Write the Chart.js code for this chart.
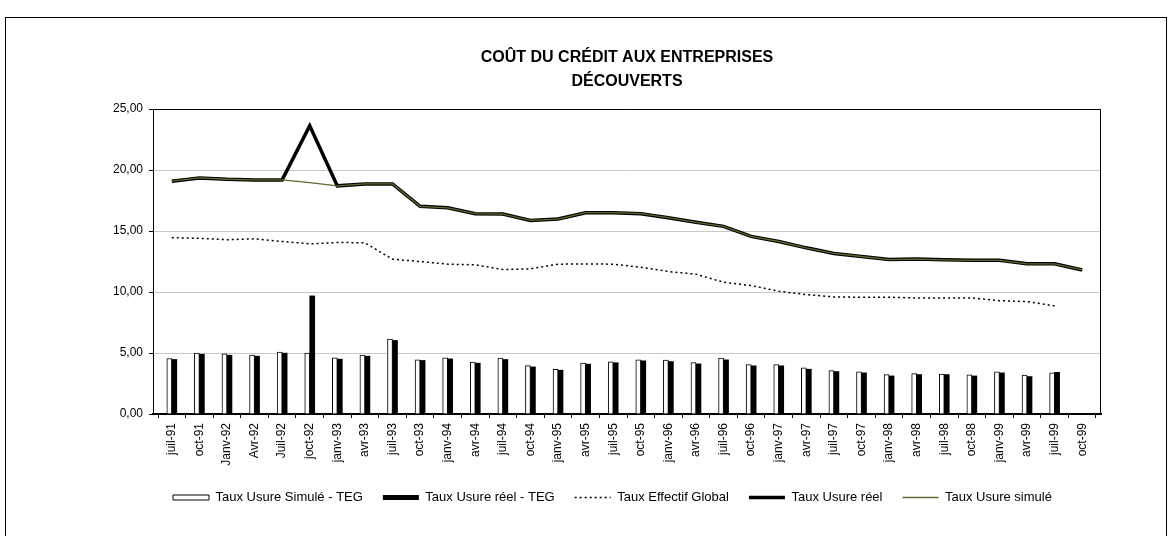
<!DOCTYPE html>
<html lang="fr">
<head>
<meta charset="utf-8">
<title>Coût du crédit aux entreprises — Découverts</title>
<script src="https://cdn.jsdelivr.net/npm/chart.js@4/dist/chart.umd.min.js"></script>
<style>
    html, body { margin: 0; padding: 0; background: #fff; }
    #zone { position: relative; width: 1170px; height: 536px; overflow: hidden; }
    #cadre {
        position: absolute; left: 5px; top: 17px;
        width: 1162px; height: 600px;
        border: 1px solid #000; box-sizing: border-box;
    }
    #graph { position: absolute; left: 0; top: 0; }
</style>
</head>
<body>
<div id="zone">
    <div id="cadre"></div>
    <canvas id="graph" width="1170" height="536"></canvas>
</div>
<script>
'use strict';

// ─── Données ──────────────────────────────────────────────────────────────────
const PERIODES = [
    'juil-91','oct-91','Janv-92','Avr-92','Juil-92','joct-92','janv-93','avr-93',
    'juil-93','oct-93','janv-94','avr-94','juil-94','oct-94','janv-95','avr-95',
    'juil-95','oct-95','janv-96','avr-96','juil-96','oct-96','janv-97','avr-97',
    'juil-97','oct-97','janv-98','avr-98','juil-98','oct-98','janv-99','avr-99',
    'juil-99','oct-99'
];

// écarts (barres)
const ECART_SIMULE = [
    4.55, 4.99, 4.93, 4.82, 5.07, 4.99, 4.60, 4.82, 6.14, 4.44, 4.60, 4.25,
    4.58, 3.97, 3.67, 4.17, 4.28, 4.44, 4.41, 4.22, 4.58, 4.05, 4.05, 3.78,
    3.56, 3.45, 3.23, 3.31, 3.28, 3.21, 3.45, 3.18, 3.37, null
];
const ECART_REEL = [
    4.47, 4.90, 4.82, 4.74, 4.99, 9.68, 4.50, 4.74, 6.03, 4.39, 4.52, 4.17,
    4.47, 3.86, 3.59, 4.09, 4.20, 4.36, 4.30, 4.11, 4.44, 3.95, 3.95, 3.67,
    3.48, 3.37, 3.12, 3.23, 3.23, 3.12, 3.37, 3.07, 3.42, null
];

// taux (courbes)
const TAUX_TEG = [
    14.45, 14.40, 14.28, 14.36, 14.14, 13.95, 14.06, 14.03, 12.69, 12.50, 12.28, 12.23,
    11.84, 11.90, 12.28, 12.30, 12.28, 12.03, 11.68, 11.46, 10.80, 10.53, 10.06, 9.79,
    9.60, 9.57, 9.57, 9.51, 9.51, 9.51, 9.29, 9.21, 8.86, null
];
const USURE_REEL = [
    19.08, 19.35, 19.24, 19.19, 19.19, 23.63, 18.70, 18.86, 18.86, 17.02, 16.90, 16.42,
    16.39, 15.87, 15.98, 16.50, 16.50, 16.42, 16.09, 15.71, 15.38, 14.56, 14.14, 13.62,
    13.16, 12.91, 12.66, 12.70, 12.64, 12.60, 12.60, 12.31, 12.31, 11.81
];
const USURE_SIMULE = [
    19.08, 19.35, 19.24, 19.19, 19.19, 18.97, 18.70, 18.86, 18.86, 17.02, 16.90, 16.42,
    16.39, 15.87, 15.98, 16.50, 16.50, 16.42, 16.09, 15.71, 15.38, 14.56, 14.14, 13.62,
    13.16, 12.91, 12.66, 12.70, 12.64, 12.60, 12.60, 12.31, 12.31, 11.81
];

const TICKS_Y = [0, 5, 10, 15, 20, 25];

// ─── Utils ────────────────────────────────────────────────────────────────────
const POLICE = "'Liberation Sans', Arial, sans-serif";

function formatTaux(v) {
    return Number(v).toFixed(2).replace('.', ',');
}

function points(serie) {
    return serie.map(function (v, i) { return { x: i, y: v }; });
}

// légende : ordre des séries + trait pointillé / épaisseur des courbes
function etiquettesLegende(chart) {
    const base = Chart.defaults.plugins.legend.labels.generateLabels(chart);
    base.forEach(function (item) {
        const ds = chart.data.datasets[item.datasetIndex];
        if (ds.type === 'line') {
            item.lineDash = ds.borderDash || [];
            item.lineWidth = ds.borderWidth;
            item.strokeStyle = ds.borderColor;
        }
    });
    return base.sort(function (a, b) { return a.datasetIndex - b.datasetIndex; });
}

// cadre noir autour de la zone de tracé
const cadrePlot = {
    id: 'cadrePlot',
    afterDraw: function (chart) {
        const a = chart.chartArea;
        const ctx = chart.ctx;
        ctx.save();
        ctx.strokeStyle = '#000';
        ctx.lineWidth = 1;
        ctx.beginPath();
        ctx.moveTo(a.left, a.top + 0.5);
        ctx.lineTo(a.right - 0.5, a.top + 0.5);
        ctx.lineTo(a.right - 0.5, a.bottom);
        ctx.stroke();
        ctx.restore();
    }
};

// ─── Graphique ────────────────────────────────────────────────────────────────
Chart.defaults.font.family = POLICE;
Chart.defaults.color = '#000';

new Chart(document.getElementById('graph'), {
    data: {
        datasets: [
            {
                type: 'bar',
                label: 'Taux Usure Simulé - TEG',
                data: points(ECART_SIMULE),
                backgroundColor: '#fff',
                borderColor: '#000',
                borderWidth: 1,
                barThickness: 5,
                pointStyle: 'rect',
                order: 3,
            },
            {
                type: 'bar',
                label: 'Taux Usure réel - TEG',
                data: points(ECART_REEL),
                backgroundColor: '#000',
                borderColor: '#000',
                borderWidth: 0,
                barThickness: 5,
                pointStyle: 'rect',
                order: 3,
            },
            {
                type: 'line',
                label: 'Taux Effectif Global',
                data: points(TAUX_TEG),
                borderColor: '#000',
                borderWidth: 1.5,
                borderDash: [2, 3],
                pointRadius: 0,
                pointStyle: 'line',
                spanGaps: false,
                order: 2,
            },
            {
                type: 'line',
                label: 'Taux Usure réel',
                data: points(USURE_REEL),
                borderColor: '#000',
                borderWidth: 3.5,
                pointRadius: 0,
                pointStyle: 'line',
                order: 1,
            },
            {
                type: 'line',
                label: 'Taux Usure simulé',
                data: points(USURE_SIMULE),
                borderColor: '#666633',
                borderWidth: 1.3,
                pointRadius: 0,
                pointStyle: 'line',
                order: 0,
            },
        ],
    },
    options: {
        responsive: false,
        animation: false,
        layout: { padding: { left: 0, right: 69, top: 0, bottom: 22 } },
        plugins: {
            tooltip: { enabled: false },
            title: {
                display: true,
                fullSize: false,
                text: ['COÛT DU CRÉDIT AUX ENTREPRISES', 'DÉCOUVERTS'],
                font: { size: 16, weight: 'bold', lineHeight: 1.5 },
                padding: { top: 46, bottom: 15 },
                color: '#000',
            },
            legend: {
                position: 'bottom',
                fullSize: false,
                align: 'start',
                labels: {
                    usePointStyle: true,
                    pointStyleWidth: 36,
                    boxHeight: 5,
                    padding: 20,
                    font: { size: 13 },
                    color: '#000',
                    generateLabels: etiquettesLegende,
                },
            },
        },
        scales: {
            x: {
                type: 'linear',
                min: -0.176,
                max: 33.176,
                afterBuildTicks: function (scale) {
                    scale.ticks = PERIODES.map(function (_, i) { return { value: i }; });
                },
                afterFit: function (scale) { scale.height = 57; },
                ticks: {
                    autoSkip: false,
                    minRotation: 90,
                    maxRotation: 90,
                    padding: 5,
                    font: { size: 12 },
                    callback: function (v) { return PERIODES[v]; },
                },
                grid: {
                    drawOnChartArea: false,
                    drawTicks: true,
                    tickLength: 4,
                    tickColor: '#000',
                    color: '#000',
                },
                border: { color: '#000', width: 2 },
            },
            y: {
                min: 0,
                max: 25,
                afterBuildTicks: function (scale) {
                    scale.ticks = TICKS_Y.map(function (v) { return { value: v }; });
                },
                afterFit: function (scale) { scale.width = 153; },
                ticks: {
                    padding: 6,
                    font: { size: 12 },
                    callback: function (v) { return formatTaux(v); },
                },
                grid: {
                    color: '#c8c8c8',
                    lineWidth: 1,
                    tickLength: 4,
                    tickColor: '#000',
                },
                border: { color: '#000', width: 1 },
            },
        },
    },
    plugins: [cadrePlot],
});
</script>
</body>
</html>
